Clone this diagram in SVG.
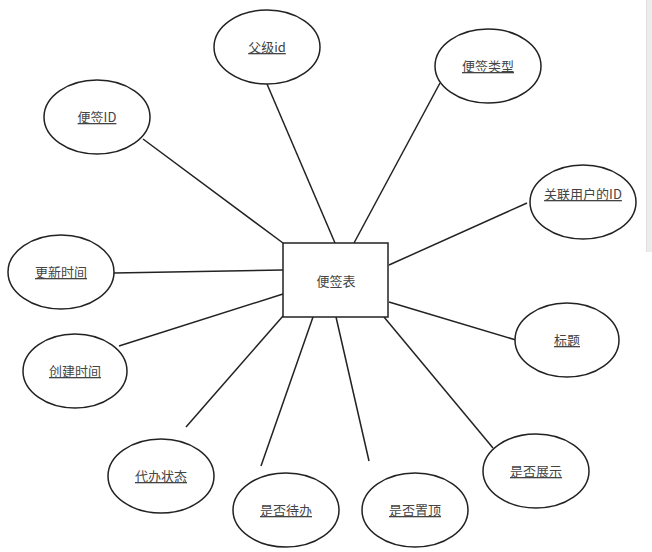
<svg xmlns="http://www.w3.org/2000/svg" width="652" height="552" viewBox="0 0 652 552">
<style>
.e{fill:#fff;stroke:#222;stroke-width:1.5}
.t{font-family:"Microsoft YaHei","Noto Sans CJK SC",sans-serif;font-size:13px;fill:#444;text-anchor:middle;text-decoration:underline}
.c line{stroke:#222;stroke-width:1.5}
</style>
<rect width="652" height="552" fill="#fff"/>
<rect x="647" y="0" width="5" height="252" fill="#ececec"/>
<line x1="646.5" y1="0" x2="646.5" y2="252" stroke="#e0e0e0" stroke-width="1"/>
<g id="connectors" class="c">
<line x1="143" y1="139" x2="283" y2="243"/>
<line x1="267" y1="84" x2="335" y2="243"/>
<line x1="440" y1="83" x2="354" y2="243"/>
<line x1="527" y1="203" x2="389" y2="265"/>
<line x1="114" y1="273" x2="283" y2="270"/>
<line x1="119" y1="346" x2="283" y2="294"/>
<line x1="389" y1="302" x2="516" y2="340"/>
<line x1="283" y1="316" x2="186" y2="427"/>
<line x1="313" y1="317" x2="261" y2="466"/>
<line x1="336" y1="317" x2="369" y2="461"/>
<line x1="384" y1="317" x2="493" y2="448"/>
</g>
<g id="n-main"><rect x="283" y="243" width="105" height="74" fill="#fff" stroke="#222" stroke-width="1.5"/><text x="336" y="286" class="t" style="text-decoration:none">便签表</text></g>
<g id="n-fuji"><ellipse class="e" cx="267" cy="47" rx="53" ry="37"/><text x="267" y="52" class="t">父级id</text></g>
<g id="n-leixing"><ellipse class="e" cx="488" cy="66" rx="53" ry="37"/><text x="488" y="71" class="t">便签类型</text></g>
<g id="n-id"><ellipse class="e" cx="97" cy="117" rx="53" ry="37"/><text x="97" y="122" class="t">便签ID</text></g>
<g id="n-user"><ellipse class="e" cx="583" cy="202" rx="53" ry="37"/><text x="583" y="199" class="t">关联用户的ID</text></g>
<g id="n-update"><ellipse class="e" cx="61" cy="272" rx="53" ry="37"/><text x="61" y="277" class="t">更新时间</text></g>
<g id="n-title"><ellipse class="e" cx="567" cy="340" rx="52" ry="37"/><text x="567" y="345" class="t">标题</text></g>
<g id="n-create"><ellipse class="e" cx="75" cy="371" rx="52" ry="37"/><text x="75" y="376" class="t">创建时间</text></g>
<g id="n-status"><ellipse class="e" cx="161" cy="476" rx="53" ry="37"/><text x="161" y="481" class="t">代办状态</text></g>
<g id="n-todo"><ellipse class="e" cx="286" cy="510" rx="53" ry="37"/><text x="286" y="515" class="t">是否待办</text></g>
<g id="n-top"><ellipse class="e" cx="415" cy="510" rx="53" ry="37"/><text x="415" y="515" class="t">是否置顶</text></g>
<g id="n-show"><ellipse class="e" cx="536" cy="471" rx="53" ry="37"/><text x="536" y="476" class="t">是否展示</text></g>
</svg>
